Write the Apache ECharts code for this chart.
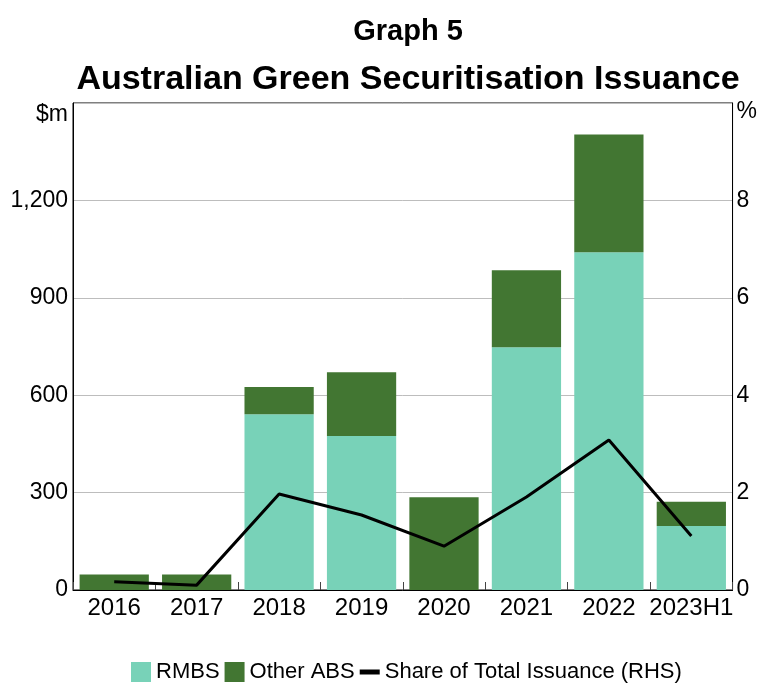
<!DOCTYPE html>
<html>
<head>
<meta charset="utf-8">
<script src="https://cdn.jsdelivr.net/npm/echarts@6/dist/echarts.min.js"></script>
<style>
  html, body { margin: 0; padding: 0; background: #fff; }
  #main { width: 760px; height: 689px; }
</style>
</head>
<body>
<div id="main"></div>
<script>
// data
var years = ['2016', '2017', '2018', '2019', '2020', '2021', '2022', '2023H1'];
var rmbs = [0, 0, 541, 474, 0, 748, 1040, 197];
var otherAbs = [48, 48, 84, 197, 286, 237, 363, 75];
var shareTotal = [0.17, 0.1, 1.97, 1.54, 0.9, 1.91, 3.08, 1.11];

var FONT = '"Liberation Sans", Arial, sans-serif';

var chart = echarts.init(document.getElementById('main'));

// titles and legend are centred over the plot, not the page
var plotMid = 403;

var option = {
  animation: false,
  textStyle: { fontFamily: FONT },
  title: [
    {
      text: 'Graph 5',
      left: plotMid,
      textAlign: 'center',
      top: 12,
      textStyle: { fontSize: 29, fontWeight: 'bold', color: '#000', fontFamily: FONT }
    },
    {
      text: 'Australian Green Securitisation Issuance',
      left: plotMid,
      textAlign: 'center',
      top: 58,
      textStyle: { fontSize: 34, fontWeight: 'bold', color: '#000', fontFamily: FONT }
    }
  ],
  grid: {
    left: 73,
    right: 26,
    top: 103,
    bottom: 99,
    show: true,
    borderColor: '#000',
    borderWidth: 1
  },
  legend: {
    bottom: 1,
    left: 126,
    itemWidth: 20,
    itemHeight: 20,
    itemGap: 5,
    textStyle: { fontSize: 22, color: '#000', fontFamily: FONT },
    data: [
      { name: 'RMBS', icon: 'rect' },
      { name: 'Other ABS', icon: 'rect' },
      { name: 'Share of Total Issuance (RHS)', icon: 'path://M2,8 L18,8 L18,12 L2,12 Z' }
    ]
  },
  xAxis: {
    type: 'category',
    data: years,
    axisLine: { lineStyle: { color: '#000', width: 1 } },
    axisTick: { show: true, inside: true, length: 8, interval: 0, lineStyle: { color: '#444' } },
    axisLabel: { fontSize: 24, color: '#000', margin: 6, interval: 0, fontFamily: FONT }
  },
  yAxis: [
    {
      type: 'value',
      min: 0,
      max: 1500,
      interval: 300,
      axisLine: { show: true, lineStyle: { color: '#000' } },
      axisTick: { show: false },
      splitLine: { lineStyle: { color: '#bdbdbd', width: 1 } },
      axisLabel: {
        fontSize: 23,
        color: '#000',
        margin: 5,
        fontFamily: FONT,
        formatter: function (v) {
          if (v === 1500) return '{u|$m}';
          return v.toLocaleString('en-US');
        },
        rich: { u: { fontSize: 23, color: '#000', fontFamily: FONT, padding: [24, 0, 0, 0] } }
      }
    },
    {
      type: 'value',
      min: 0,
      max: 10,
      interval: 2,
      position: 'right',
      axisLine: { show: true, lineStyle: { color: '#000' } },
      axisTick: { show: false },
      splitLine: { show: false },
      axisLabel: {
        fontSize: 23,
        color: '#000',
        margin: 4,
        fontFamily: FONT,
        formatter: function (v) {
          if (v === 10) return '{u|%}';
          return String(v);
        },
        rich: { u: { fontSize: 23, color: '#000', fontFamily: FONT, padding: [18, 0, 0, 0] } }
      }
    }
  ],
  series: [
    {
      name: 'RMBS',
      type: 'bar',
      stack: 'total',
      barCategoryGap: '16%',
      itemStyle: { color: '#78d2b8' },
      data: rmbs
    },
    {
      name: 'Other ABS',
      type: 'bar',
      stack: 'total',
      barCategoryGap: '16%',
      itemStyle: { color: '#427632' },
      data: otherAbs
    },
    {
      name: 'Share of Total Issuance (RHS)',
      type: 'line',
      yAxisIndex: 1,
      symbol: 'none',
      lineStyle: { color: '#000', width: 3 },
      itemStyle: { color: '#000' },
      data: shareTotal
    }
  ]
};

chart.setOption(option);
</script>
</body>
</html>
